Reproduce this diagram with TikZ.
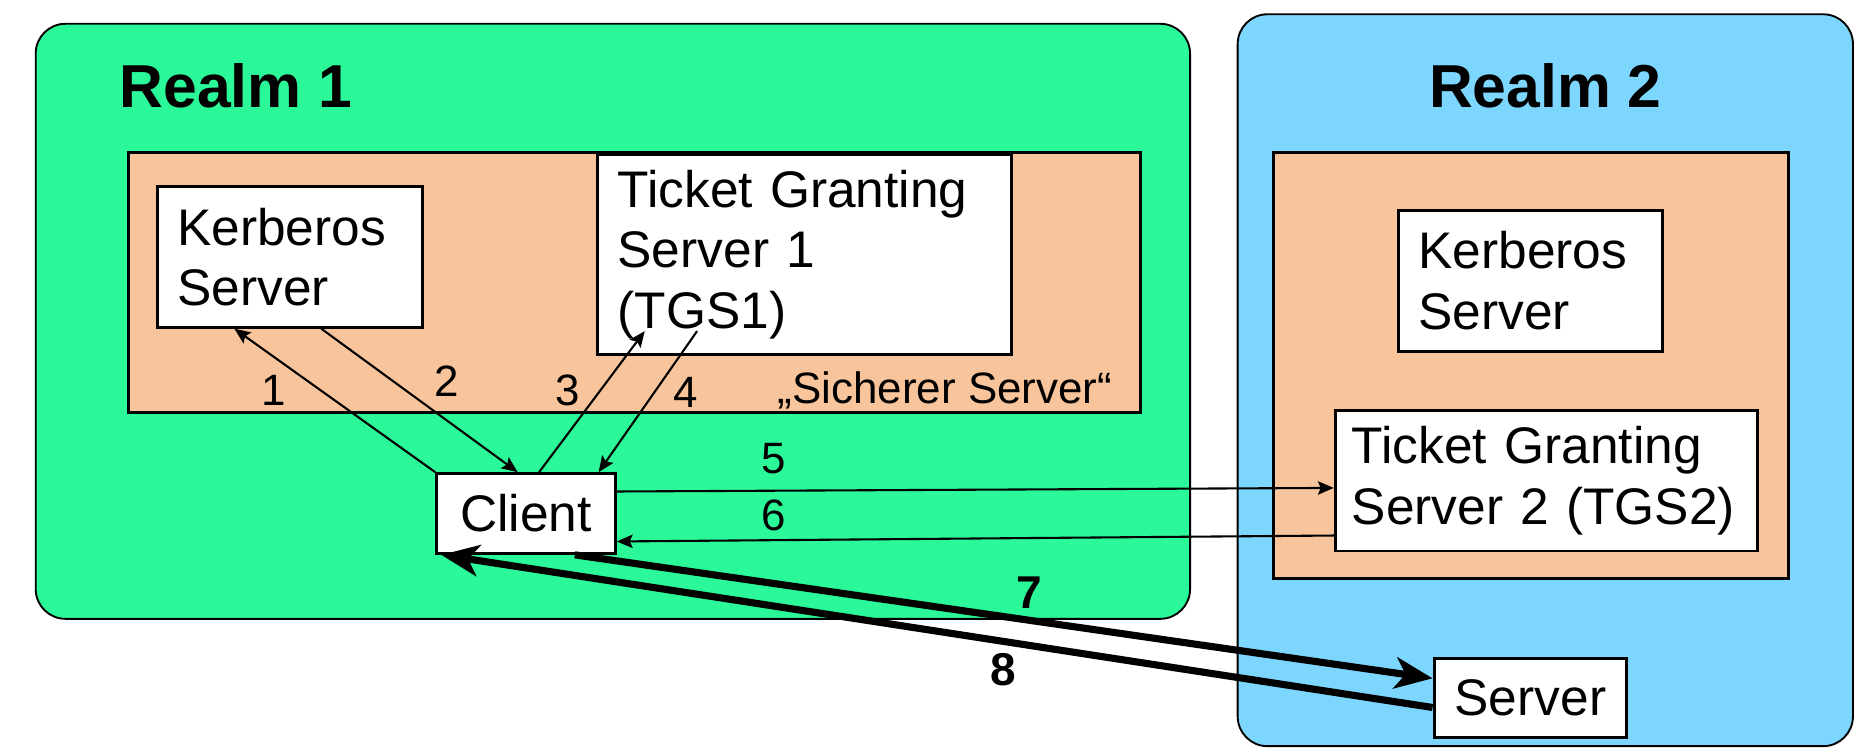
\documentclass[tikz,border=0pt]{standalone}
\usepackage{fontspec}
\setmainfont{Liberation Sans}
\usetikzlibrary{arrows.meta}
\definecolor{realmgreen}{RGB}{43,248,152}
\definecolor{realmblue}{RGB}{124,214,253}
\definecolor{secorange}{RGB}{248,196,156}
\tikzset{
  srv/.style={draw, fill=white, line width=0.7pt, inner xsep=0.17cm, inner ysep=0pt,
    align=left, font=\fontsize{12.3}{14.5}\selectfont},
  msg/.style={line width=0.5pt, -{Stealth[length=3.8pt, width=3.2pt, inset=0.7pt]}},
  bigmsg/.style={line width=1.7pt, -{Stealth[length=9pt, width=7.5pt, inset=2.5pt]}},
  num/.style={font=\fontsize{10.5}{12}\selectfont},
  bignum/.style={font=\fontsize{11}{13}\selectfont\bfseries},
  realmtitle/.style={font=\fontsize{14.5}{17}\selectfont\bfseries},
}
\begin{document}
\begin{tikzpicture}
                \useasboundingbox (0,0) rectangle (15.68,6.32);
                % realms
                \filldraw[fill=realmgreen, line width=0.45pt, rounded corners=0.25cm] (0.30,1.12) rectangle (10.00,6.12);
                \filldraw[fill=realmblue, line width=0.45pt, rounded corners=0.25cm] (10.40,0.05) rectangle (15.57,6.20);
                \node[realmtitle, anchor=west] (r1title) at (0.88,5.60) {Realm 1};
                \node[realmtitle] (r2title) at (12.985,5.60) {Realm 2};
                % secure servers
                \filldraw[fill=secorange, line width=0.7pt] (1.08,2.85) rectangle (9.58,5.04);
                \filldraw[fill=secorange, line width=0.7pt] (10.70,1.46) rectangle (15.03,5.04);
                \node[num, anchor=east] (secure) at (9.47,3.04) {„Sicherer Server“};
                % servers
                \node[srv, text width=1.89cm, minimum height=1.18cm] (ks1) at (2.435,4.16) {Kerberos\\Server};
                \node[srv, text width=3.14cm, minimum height=1.68cm] (tgs1) at (6.76,4.18) {Ticket Granting\\Server 1\\(TGS1)};
                \node[srv, text width=1.88cm, minimum height=1.18cm] (ks2) at (12.86,3.96) {Kerberos\\Server};
                \node[srv, inner xsep=0.14cm, text width=3.27cm, minimum height=1.18cm] (tgs2) at (12.995,2.28) {Ticket Granting\\Server 2 (TGS2)};
                \node[srv, minimum width=1.50cm, minimum height=0.67cm, align=center] (client) at (4.42,2.005) {Client};
                \node[srv, minimum width=1.62cm, minimum height=0.67cm, align=center] (server) at (12.86,0.455) {Server};
                % messages
                \draw[msg] (client.north west) -- ([xshift=-0.465cm]ks1.south);
                \draw[msg] ([xshift=0.265cm]ks1.south) -- ([xshift=-0.07cm]client.north);
                \draw[msg] ([xshift=0.11cm]client.north) -- ([shift={(0.41cm,0.21cm)}]tgs1.south west);
                \draw[msg] ([shift={(0.85cm,0.21cm)}]tgs1.south west) -- ([xshift=0.61cm]client.north);
                \draw[msg] ([yshift=0.185cm]client.east) -- ([yshift=-0.06cm]tgs2.west);
                \draw[msg] ([yshift=-0.46cm]tgs2.west) -- ([yshift=-0.235cm]client.east);
                \draw[bigmsg] ([xshift=0.41cm]client.south) -- ([yshift=0.165cm]server.west);
                \draw[bigmsg] ([yshift=-0.08cm]server.west) -- ([xshift=0.05cm]client.south west);
                \node[num] (n1) at (2.30,3.04) {1};
                \node[num] (n2) at (3.75,3.12) {2};
                \node[num] (n3) at (4.77,3.04) {3};
                \node[num] (n4) at (5.76,3.02) {4};
                \node[num] (n5) at (6.50,2.47) {5};
                \node[num] (n6) at (6.50,1.99) {6};
                \node[bignum] (n7) at (8.65,1.34) {7};
                \node[bignum] (n8) at (8.43,0.69) {8};
            \end{tikzpicture}
\end{document}
